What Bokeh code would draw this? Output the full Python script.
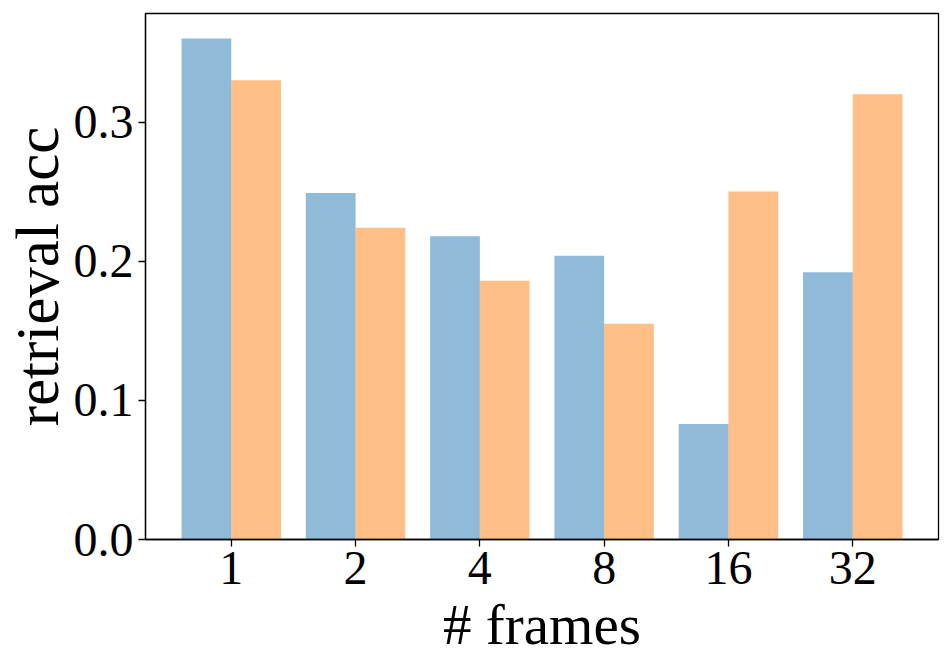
from bokeh.plotting import figure
from bokeh.models import FactorRange, Range1d, FixedTicker, PrintfTickFormatter, ColumnDataSource
from bokeh.transform import dodge
from bokeh.embed import file_html
from bokeh.resources import INLINE

frames = ["1", "2", "4", "8", "16", "32"]
series_a = [0.360, 0.249, 0.218, 0.204, 0.083, 0.192]
series_b = [0.330, 0.224, 0.186, 0.155, 0.250, 0.320]
y_ticks = [0.0, 0.1, 0.2, 0.3]

x_label = "# frames"
y_label = "retrieval acc"

source = ColumnDataSource(data=dict(frames=frames, a=series_a, b=series_b))

x_range = FactorRange(factors=frames, range_padding=0.19, range_padding_units="absolute")

p = figure(
    width=952, height=668,
    x_range=x_range, y_range=Range1d(0, 0.378),
    output_backend="svg", toolbar_location=None,
    min_border_left=145, min_border_right=14, min_border_top=13, min_border_bottom=129,
)

p.vbar(x=dodge("frames", -0.2, range=x_range), top="a", width=0.4, source=source,
       fill_color="#1f77b4", fill_alpha=0.5, line_color=None)
p.vbar(x=dodge("frames", 0.2, range=x_range), top="b", width=0.4, source=source,
       fill_color="#ff7f0e", fill_alpha=0.5, line_color=None)

p.xgrid.visible = False
p.ygrid.visible = False
p.outline_line_color = "black"
p.outline_line_alpha = 1.0
p.outline_line_width = 1.3

p.yaxis.ticker = FixedTicker(ticks=y_ticks)
p.yaxis.formatter = PrintfTickFormatter(format="%.1f")

for ax in (p.xaxis, p.yaxis):
    ax.axis_line_color = "black"
    ax.axis_line_width = 1.3
    ax.major_tick_line_color = "black"
    ax.major_tick_line_width = 1.3
    ax.major_tick_out = 7
    ax.major_tick_in = 0
    ax.minor_tick_line_color = None
    ax.major_label_text_font = "Liberation Serif"
    ax.major_label_text_font_size = "48px"
    ax.major_label_text_color = "black"
    ax.axis_label_text_font = "Liberation Serif"
    ax.axis_label_text_font_style = "normal"
    ax.axis_label_text_color = "black"
    ax.major_label_standoff = 5

p.xaxis.axis_label = x_label
p.yaxis.axis_label = y_label
p.xaxis.axis_label_text_font_size = "57px"
p.yaxis.axis_label_text_font_size = "61px"
p.xaxis.axis_label_standoff = 6
p.yaxis.axis_label_standoff = 0

open("out.html", "w").write(file_html(p, INLINE))
